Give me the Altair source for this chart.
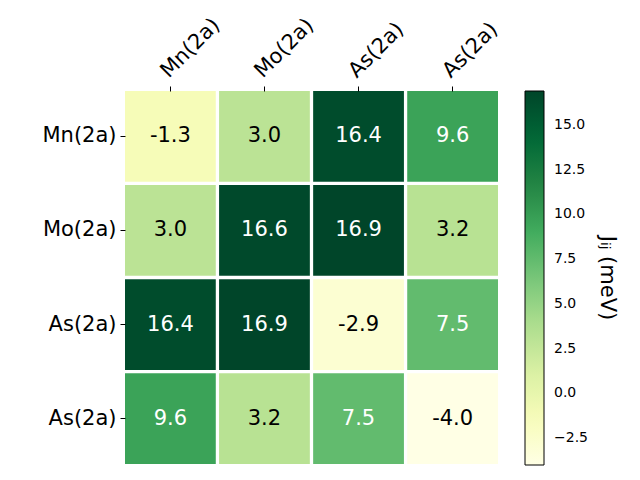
import json
import altair as alt
import pandas as pd

row_labels = ["Mn(2a)", "Mo(2a)", "As(2a)", "As(2a)"]
col_labels = ["Mn(2a)", "Mo(2a)", "As(2a)", "As(2a)"]
row0 = [-1.3, 3.0, 16.4, 9.6]
row1 = [3.0, 16.6, 16.9, 3.2]
row2 = [16.4, 16.9, -2.9, 7.5]
row3 = [9.6, 3.2, 7.5, -4.0]
matrix = [row0, row1, row2, row3]
cbar_ticks = [-2.5, 0.0, 2.5, 5.0, 7.5, 10.0, 12.5, 15.0]

vmin, vmax = -4.0, 16.9
ylgn = ["#ffffe5", "#f7fcb9", "#d9f0a3", "#addd8e", "#78c679",
        "#41ab5d", "#238443", "#006837", "#004529"]
stops = [vmin + i * (vmax - vmin) / 8 for i in range(9)]

records = []
for i, row in enumerate(matrix):
    for j, v in enumerate(row):
        records.append({"r": i, "c": j, "v": v, "label": f"{v:.1f}"})
df = pd.DataFrame(records)

font = "DejaVu Sans"
xlab = "datum.value >= 0 ? " + json.dumps(col_labels) + "[datum.value] : ''"
ylab = "datum.value >= 0 ? " + json.dumps(row_labels) + "[datum.value] : ''"

x = alt.X("c:O", title=None,
          scale=alt.Scale(paddingInner=0.035, paddingOuter=0),
          axis=alt.Axis(orient="top", labelExpr=xlab, labelAngle=-45,
                        labelAlign="left", labelBaseline="middle",
                        labelPadding=12, labelOffset=-6))
y = alt.Y("r:O", title=None,
          scale=alt.Scale(paddingInner=0.035, paddingOuter=0),
          axis=alt.Axis(labelExpr=ylab, labelAngle=0, labelPadding=4))

rect = alt.Chart(df).mark_rect().encode(
    x=x, y=y,
    color=alt.Color("v:Q",
                    scale=alt.Scale(domain=stops, range=ylgn, interpolate="rgb",
                                    zero=False, nice=False),
                    legend=alt.Legend(title="Jᵢⱼ (meV)", titleOrient="right",
                                      titleFontSize=21, titleFontWeight="normal",
                                      titleFont=font, titleColor="black",
                                      gradientLength=374, gradientThickness=19,
                                      gradientStrokeColor="black",
                                      gradientStrokeWidth=1,
                                      labelFontSize=14, labelFont=font,
                                      labelColor="black", labelOffset=10,
                                      values=cbar_ticks, format=".1f",
                                      offset=27, titlePadding=9)),
)

text = alt.Chart(df).mark_text(fontSize=21, font=font).encode(
    x=x, y=y,
    text="label:N",
    color=alt.condition(alt.datum.v > 6, alt.value("white"), alt.value("black")),
)

chart = alt.layer(rect, text).properties(
    width=373, height=373,
    autosize="none",
    padding={"left": 117, "top": 83, "right": 134, "bottom": 8},
).configure_axis(
    labelFont=font, labelFontSize=21, labelColor="black",
    tickColor="black", tickSize=5, tickWidth=1, domain=False, grid=False,
).configure_view(strokeWidth=0)

chart.save("out.html", embed_options={"renderer": "svg", "actions": False})
